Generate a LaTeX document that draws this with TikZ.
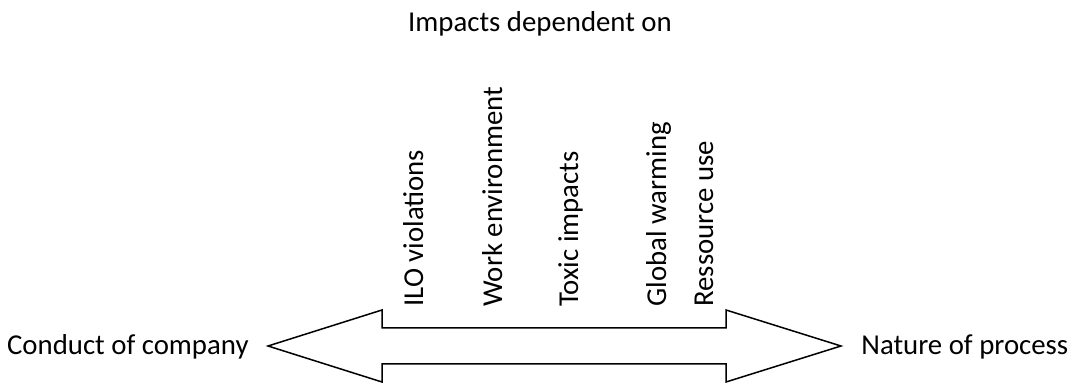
\documentclass[tikz,border=0pt]{standalone}
\usepackage{fontspec}
\setmainfont{Carlito}
\begin{document}
\begin{tikzpicture}[x=0.5pt,y=-0.5pt,
    every node/.style={font=\fontsize{14.4}{17}\selectfont, inner sep=0pt},
    impact/.style={rotate=90, anchor=base west}]
      \useasboundingbox (0,0) rectangle (1075,383);
      \draw[line width=0.75pt, line join=miter]
        (268,346) -- (382,310) -- (382,328) -- (726,328) -- (726,310)
        -- (841,346) -- (726,382) -- (726,364) -- (382,364) -- (382,382) -- cycle;
      \draw
        (540,32) node[anchor=base] (title){Impacts dependent on}
        (249,355) node[anchor=base east] (conduct){Conduct of company}
        (861,355) node[anchor=base west] (nature){Nature of process};
      \begin{scope}[every node/.append style={impact}]
        \node (ilo) at (423,307) {ILO violations};
        \node (work) at (502,307) {Work environment};
        \node (toxic) at (578,307) {Toxic impacts};
        \node (global) at (666,307) {Global warming};
        \node (ressource) at (713,307) {Ressource use};
      \end{scope}
    \end{tikzpicture}
\end{document}
